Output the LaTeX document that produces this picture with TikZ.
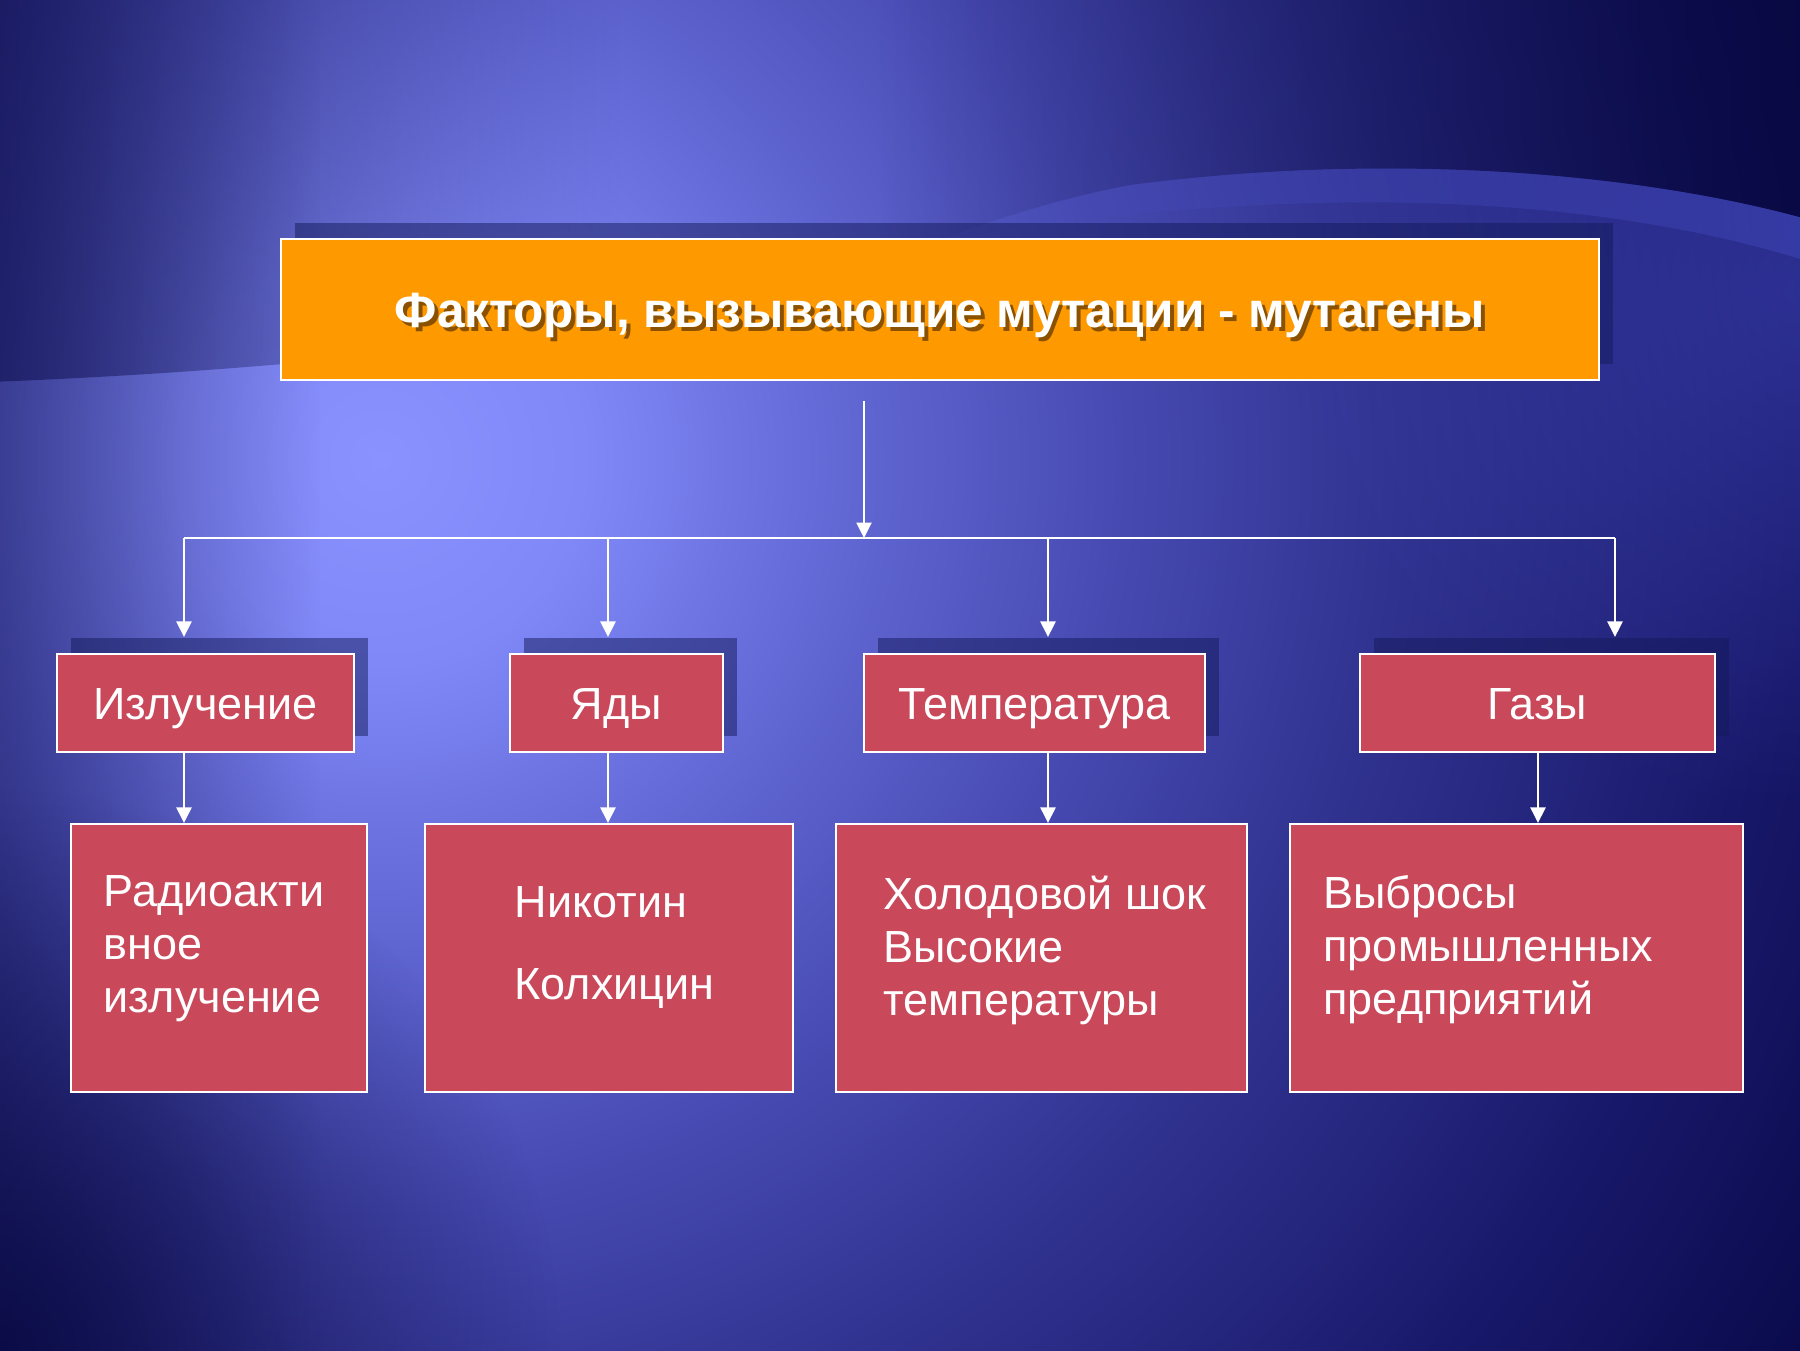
\documentclass[tikz,border=0pt]{standalone}
\usepackage{fontspec}
\setmainfont{Liberation Sans}
\usetikzlibrary{arrows.meta,shadows,fadings}

\definecolor{bgA}{HTML}{8A92FF}
\definecolor{bgA2}{HTML}{8088F8}
\definecolor{bgB}{HTML}{6066D2}
\definecolor{bgC}{HTML}{4649B0}
\definecolor{bgC2}{HTML}{30328F}
\definecolor{bgD}{HTML}{18186A}
\definecolor{bgE}{HTML}{09094A}
\definecolor{boxred}{HTML}{C9485A}
\definecolor{titleor}{HTML}{FF9900}
\definecolor{shadowblue}{HTML}{141A5A}
\definecolor{txtshadow}{HTML}{8A5200}
\definecolor{navy}{HTML}{0A0A48}
\definecolor{deepnavy}{HTML}{05053A}
\definecolor{bandblue}{HTML}{4850C8}

% path bounding box half-size corresponds to 25bp
\pgfdeclareradialshading{bgshade}{\pgfpoint{0bp}{0bp}}{color(0bp)=(bgA); color(3bp)=(bgA2); color(7bp)=(bgB); color(11bp)=(bgC); color(15bp)=(bgC2); color(20.5bp)=(bgD); color(25bp)=(bgE); color(50bp)=(bgE)}

\tikzfading[name=fadeR, left color=transparent!0, right color=transparent!100]
\tikzfading[name=fadeL, left color=transparent!100, right color=transparent!0]
\tikzfading[name=blob, inner color=transparent!0, outer color=transparent!100]

\newcommand{\shtxt}[1]{\leavevmode\rlap{\kern1.1pt\raisebox{-1.1pt}{\textcolor{txtshadow}{#1}}}#1}

\begin{document}
\begin{tikzpicture}[x=0.01cm,y=-0.01cm,
  boxbase/.style={draw=white, line width=0.6pt, inner sep=0pt},
  shd/.style={drop shadow={shadow xshift=0.14cm, shadow yshift=0.16cm, fill=shadowblue, opacity=0.5}},
  titlebox/.style={boxbase, fill=titleor, text=white, shd,
     font=\bfseries\fontsize{14.1}{16}\selectfont, text height=10.1pt, text depth=0pt},
  catbox/.style={boxbase, fill=boxred, text=white, shd,
     font=\fontsize{12.8}{15.1}\selectfont, text height=9.2pt, text depth=0pt, minimum height=0.98cm},
  botbox/.style={boxbase, fill=boxred, minimum height=2.68cm},
  btxt/.style={text=white, align=left, inner sep=0pt, anchor=north west,
     font=\fontsize{12.8}{15.1}\selectfont},
  conn/.style={draw=white, line width=0.6pt},
  arr/.style={conn, -{Triangle[width=4.3pt,length=4.4pt]}}
]
\useasboundingbox (0,0) rectangle (1800,1350);

% ---------- background ----------
\begin{scope}
\clip (0,0) rectangle (1800,1350);
\fill[shading=bgshade] (-1320,-1240) rectangle (2080,2160);
% left vignette
\fill[navy, path fading=fadeR, fill opacity=0.5] (0,-10) rectangle (320,1360);
% bottom-left dark corner
\fill[deepnavy, path fading=blob, fill opacity=0.75] (0,1350) circle (560);
% dark region above swoosh, left part
\fill[navy, path fading=fadeR, fill opacity=0.55]
  (-10,-10) -- (-10,382) .. controls (200,374) and (420,355) .. (620,325) -- (620,-10) -- cycle;
% lighter glow below swoosh, right part
\begin{scope}
\clip (940,240) .. controls (1300,180) and (1600,195) .. (1810,262) -- (1810,1000) -- (940,1000) -- cycle;
\fill[bandblue, path fading=blob, fill opacity=0.45] (1800,290) circle (520);
\end{scope}
% dark region above band, right part
\fill[deepnavy, path fading=fadeL, fill opacity=0.75]
  (880,-10) -- (1810,-10) -- (1810,220) .. controls (1650,175) and (1400,150) .. (1130,185)
  .. controls (1050,200) and (980,225) .. (940,240) -- (880,240) -- cycle;
% light band
\fill[bandblue, path fading=fadeL, fill opacity=0.65]
  (940,240) .. controls (980,225) and (1050,200) .. (1130,185)
  .. controls (1400,150) and (1650,175) .. (1810,220) -- (1810,262)
  .. controls (1600,195) and (1300,180) .. (940,240) -- cycle;
\end{scope}

% ---------- nodes ----------
\node[titlebox, minimum width=13.18cm, minimum height=1.41cm] (title) at (940,309.5)
  {\shtxt{Факторы, вызывающие мутации - мутагены}};

\node[catbox, minimum width=2.97cm] (c1) at (205.5,703) {Излучение};
\node[catbox, minimum width=2.13cm] (c2) at (616.5,703) {Яды};
\node[catbox, minimum width=3.41cm] (c3) at (1034.5,703) {Температура};
\node[catbox, minimum width=3.55cm] (c4) at (1537.5,703) {Газы};

\node[botbox, minimum width=2.96cm] (b1) at (219,958) {};
\node[botbox, minimum width=3.68cm] (b2) at (609,958) {};
\node[botbox, minimum width=4.11cm] (b3) at (1041.5,958) {};
\node[botbox, minimum width=4.53cm] (b4) at (1516.5,958) {};

\node[btxt] (t1) at ([xshift=0.33cm,yshift=-0.52cm]b1.north west) {Радиоакти\\вное\\излучение};
\node[btxt] (t2) at ([xshift=0.90cm,yshift=-0.63cm]b2.north west) {Никотин\\[8.3pt]Колхицин};
\node[btxt] (t3) at ([xshift=0.48cm,yshift=-0.52cm]b3.north west) {Холодовой шок\\Высокие\\температуры};
\node[btxt] (t4) at ([xshift=0.34cm,yshift=-0.52cm]b4.north west) {Выбросы\\промышленных\\предприятий};

% ---------- connectors ----------
\coordinate (j0) at (864,538);
\coordinate (j1) at (184,538);
\coordinate (j2) at (608,538);
\coordinate (j3) at (1048,538);
\coordinate (j4) at (1615,538);
\coordinate (k4) at (1538,538);

\draw[arr] ([yshift=-0.2cm]title.south -| j0) -- (j0);
\draw[conn] (j1) -- (j4);
\draw[arr] (j1) -- ([yshift=0.16cm]c1.north -| j1);
\draw[arr] (j2) -- ([yshift=0.16cm]c2.north -| j2);
\draw[arr] (j3) -- ([yshift=0.16cm]c3.north -| j3);
\draw[arr] (j4) -- ([yshift=0.16cm]c4.north -| j4);

\draw[arr] (c1.south -| j1) -- (b1.north -| j1);
\draw[arr] (c2.south -| j2) -- (b2.north -| j2);
\draw[arr] (c3.south -| j3) -- (b3.north -| j3);
\draw[arr] (c4.south -| k4) -- (b4.north -| k4);
\end{tikzpicture}
\end{document}
